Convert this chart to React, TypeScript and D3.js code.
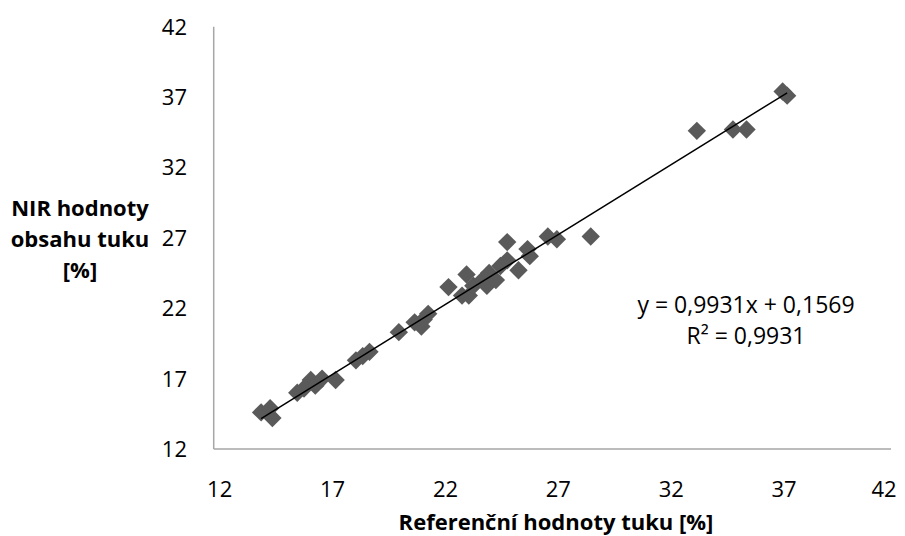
import React from "react";
import * as d3 from "d3";

const refX = [14.1, 14.5, 14.6, 15.7, 16.0, 16.3, 16.5, 16.8, 17.4, 18.3, 18.6, 18.9, 20.2, 20.9, 21.2, 21.3, 21.5, 22.4, 23.0, 23.2, 23.3, 23.5, 23.9, 24.1, 24.2, 24.5, 24.7, 25.0, 25.0, 25.5, 25.9, 26.0, 26.8, 27.2, 28.7, 33.4, 35.0, 35.6, 37.2, 37.4];
const nirY = [14.6, 14.9, 14.2, 16.0, 16.3, 16.9, 16.5, 17.0, 16.9, 18.3, 18.6, 18.9, 20.3, 21.0, 20.7, 21.2, 21.6, 23.5, 22.9, 24.4, 22.9, 23.6, 24.0, 23.6, 24.5, 24.0, 25.0, 25.4, 26.7, 24.7, 26.2, 25.7, 27.1, 26.9, 27.1, 34.6, 34.7, 34.7, 37.4, 37.1];
const xTicks = [12, 17, 22, 27, 32, 37, 42];
const yTicks = [12, 17, 22, 27, 32, 37, 42];
const slope = 0.9931;
const intercept = 0.1569;
const eqLines = ["y = 0,9931x + 0,1569", "R² = 0,9931"];
const xTitle = "Referenční hodnoty tuku [%]";
const yTitleLines = ["NIR hodnoty", "obsahu tuku", "[%]"];

const FONT = "'Open Sans', 'Noto Sans', sans-serif";

export default function App() {
  const W = 905, H = 536;
  const x = d3.scaleLinear().domain([12, 42]).range([213.7, 891]);
  const y = d3.scaleLinear().domain([12, 42]).range([449, 26.7]);
  const pts = refX.map((v, i) => [v, nirY[i]] as [number, number]);
  const x0 = d3.min(refX) as number;
  const x1 = d3.max(refX) as number;
  const line = d3.line<number>().x((d) => x(d)).y((d) => y(slope * d + intercept));
  const diamond = d3.symbol().type(d3.symbolDiamond2).size(215)();
  return (
    <svg width={W} height={H} style={{ position: "absolute", left: 0, top: 0, background: "#fff" }} fontFamily={FONT}>
      <rect width={W} height={H} fill="#fff" />
      <line x1={x(12)} x2={x(12)} y1={y(42)} y2={y(12)} stroke="#a6a6a6" strokeWidth={1.5} />
      <line x1={x(12)} x2={x(42)} y1={y(12)} y2={y(12)} stroke="#a6a6a6" strokeWidth={1.5} />
      {yTicks.map((t) => (
        <text key={"y" + t} x={187} y={y(t)} dy="0.36em" textAnchor="end" fontSize={22} fill="#000">{t}</text>
      ))}
      {xTicks.map((t) => (
        <text key={"x" + t} x={Math.min(x(t) + 6, 884)} y={497} textAnchor="middle" fontSize={22} fill="#000">{t}</text>
      ))}
      {pts.map((p, i) => (
        <path key={i} d={diamond as string} transform={`translate(${x(p[0])},${y(p[1])})`} fill="#5a5a5a" />
      ))}
      <path d={line([x0, x1]) as string} stroke="#000" strokeWidth={1.5} fill="none" />
      {eqLines.map((s, i) => (
        <text key={s} x={746} y={313 + i * 31} textAnchor="middle" fontSize={23} fill="#000">{s}</text>
      ))}
      <text x={556} y={530} textAnchor="middle" fontSize={22} fontWeight="bold" fill="#000">{xTitle}</text>
      {yTitleLines.map((s, i) => (
        <text key={s} x={80} y={216 + i * 31} textAnchor="middle" fontSize={22} fontWeight="bold" fill="#000">{s}</text>
      ))}
    </svg>
  );
}
